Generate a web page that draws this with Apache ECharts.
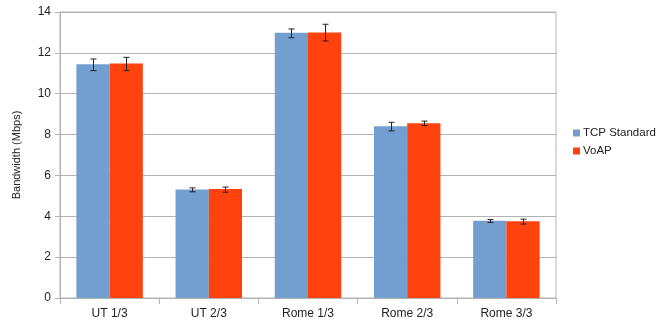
<!DOCTYPE html>
<html>
<head>
<meta charset="utf-8">
<script src="https://cdn.jsdelivr.net/npm/echarts@6/dist/echarts.min.js"></script>
<style>
  html, body { margin: 0; padding: 0; background: #fff; }
  #chart { width: 658px; height: 322px; }
</style>
</head>
<body>
<div id="chart"></div>
<script>
// values
const categories = ['UT 1/3', 'UT 2/3', 'Rome 1/3', 'Rome 2/3', 'Rome 3/3']
const tcpValues = [11.44, 5.31, 12.99, 8.41, 3.78]
const tcpLow = [11.13, 5.20, 12.74, 8.18, 3.70]
const tcpHigh = [11.70, 5.39, 13.17, 8.60, 3.84]
const voapValues = [11.48, 5.33, 13.00, 8.56, 3.76]
const voapLow = [11.13, 5.18, 12.58, 8.44, 3.62]
const voapHigh = [11.78, 5.43, 13.40, 8.66, 3.86]

const font = 'Liberation Sans'
const blue = '#729fcf'
const red = '#ff420e'

// error bar drawn with custom series; offset shifts to the bar's half of the category
const errorSeries = (low, high, side) => ({
  type: 'custom',
  silent: true,
  z: 10,
  data: low.map((v, i) => [i, v, high[i]]),
  renderItem: (params, api) => {
    const lo = api.coord([api.value(0), api.value(1)])
    const hi = api.coord([api.value(0), api.value(2)])
    const band = api.size([1, 0])[0]
    const x = Math.round(lo[0] + side * band * 0.1667) + 0.5
    const w = 3
    const style = { stroke: '#222', lineWidth: 1 }
    return {
      type: 'group',
      children: [
        { type: 'line', shape: { x1: x, y1: hi[1], x2: x, y2: lo[1] }, style },
        { type: 'line', shape: { x1: x - w, y1: hi[1], x2: x + w, y2: hi[1] }, style },
        { type: 'line', shape: { x1: x - w, y1: lo[1], x2: x + w, y2: lo[1] }, style }
      ]
    }
  }
})

const chart = echarts.init(document.getElementById('chart'))
chart.setOption({
  animation: false,
  textStyle: { fontFamily: font },
  grid: {
    left: 60, right: 102, top: 12, bottom: 24,
    show: true, borderColor: '#b3b3b3', borderWidth: 1
  },
  legend: {
    orient: 'vertical',
    left: 573,
    top: 127,
    itemWidth: 7,
    itemHeight: 7,
    itemGap: 6,
    icon: 'rect',
    padding: 0,
    textStyle: { fontFamily: font, fontSize: 11.5, color: '#222', padding: [0, 0, 0, -2] },
    data: ['TCP Standard', 'VoAP']
  },
  xAxis: {
    type: 'category',
    data: categories,
    axisLine: { lineStyle: { color: '#b3b3b3', width: 1 } },
    axisTick: { show: true, length: 6, lineStyle: { color: '#b3b3b3' } },
    axisLabel: { color: '#222', fontSize: 12, fontFamily: font, margin: 10 }
  },
  yAxis: {
    type: 'value',
    min: 0,
    max: 14,
    interval: 2,
    name: 'Bandwidth (Mbps)',
    nameLocation: 'middle',
    nameGap: 38,
    nameTextStyle: { color: '#222', fontSize: 11, fontFamily: font },
    axisLine: { show: true, lineStyle: { color: '#b3b3b3' } },
    axisTick: { show: true, length: 5, lineStyle: { color: '#b3b3b3' } },
    axisLabel: { color: '#222', fontSize: 12, fontFamily: font, margin: 9 },
    splitLine: { lineStyle: { color: '#b3b3b3' } }
  },
  series: [
    {
      name: 'TCP Standard',
      type: 'bar',
      data: tcpValues,
      barGap: '0%',
      barCategoryGap: '33%',
      itemStyle: { color: blue }
    },
    {
      name: 'VoAP',
      type: 'bar',
      data: voapValues,
      itemStyle: { color: red }
    },
    errorSeries(tcpLow, tcpHigh, -1),
    errorSeries(voapLow, voapHigh, 1)
  ]
})
</script>
</body>
</html>
